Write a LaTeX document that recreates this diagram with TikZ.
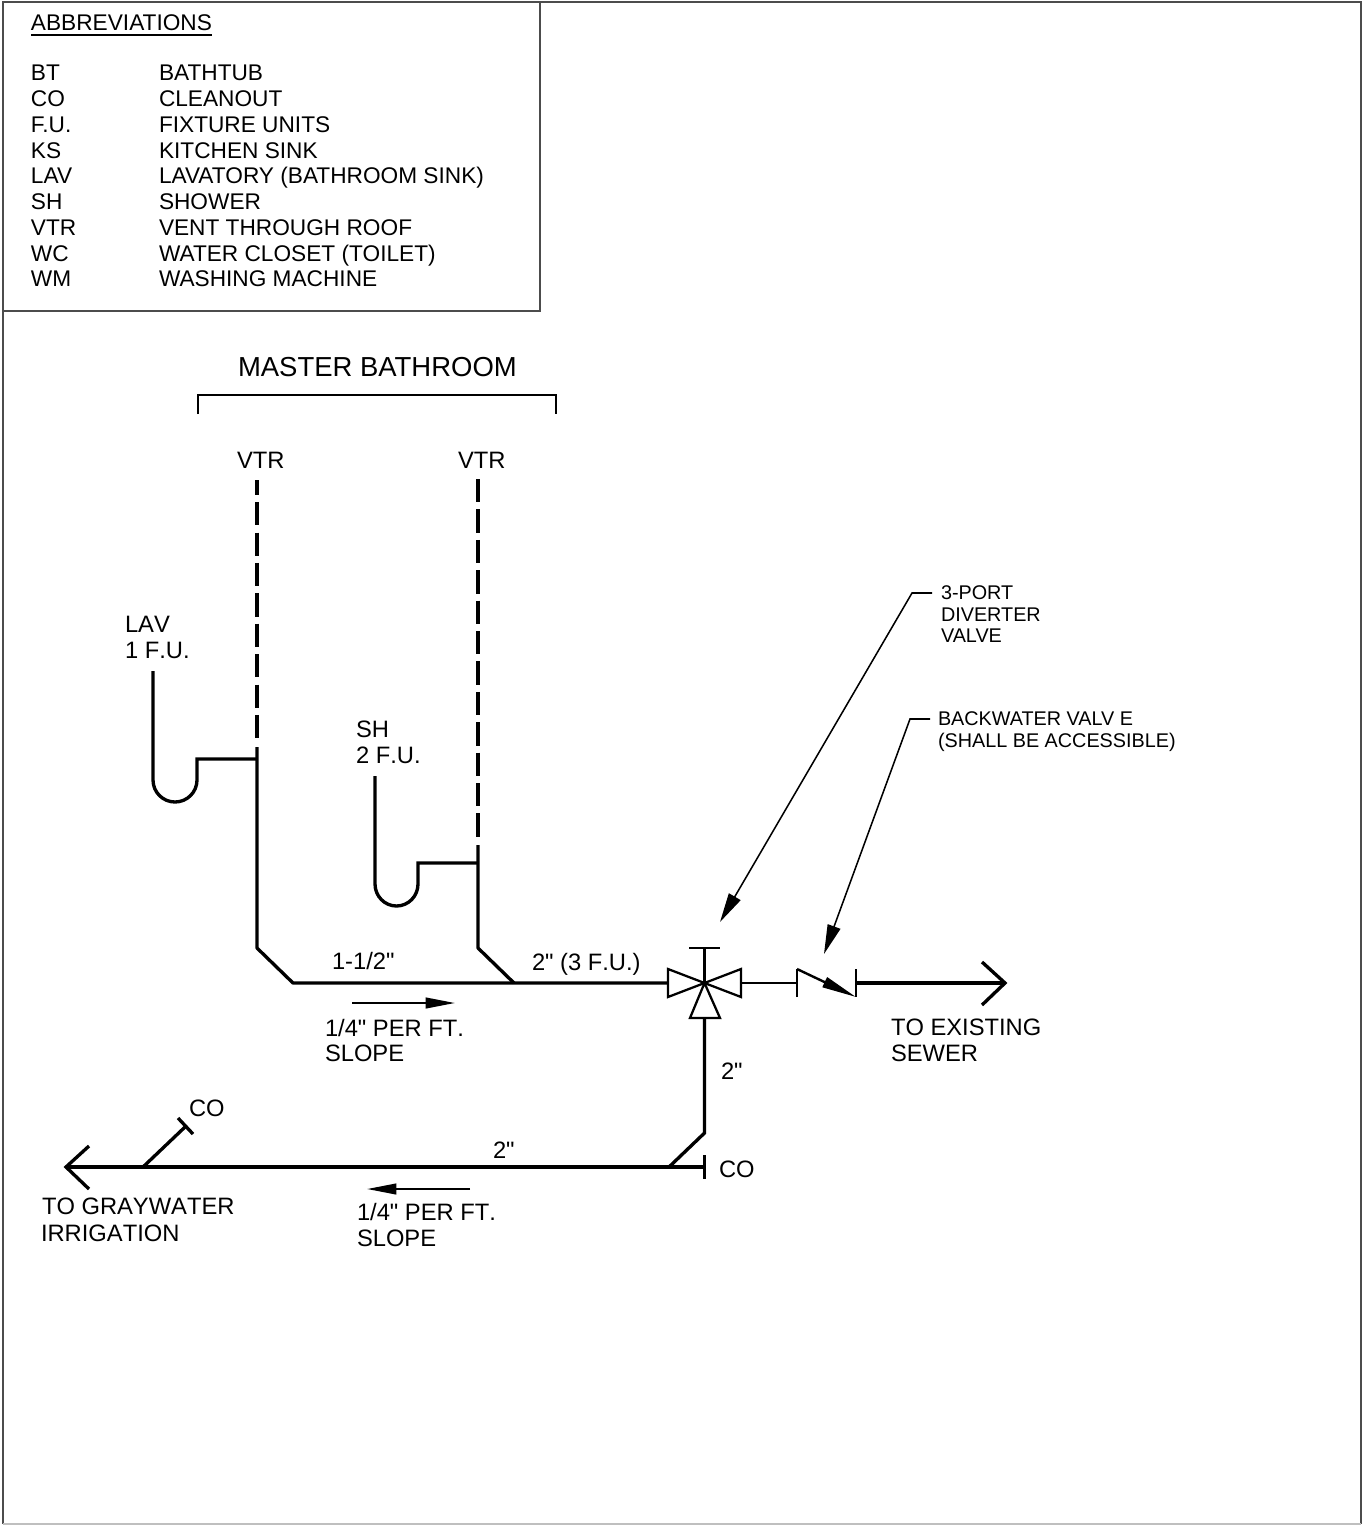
\documentclass[tikz,border=0pt]{standalone}
\usepackage{fontspec}
\setmainfont[Ligatures=TeXOff]{Liberation Sans}
\usetikzlibrary{arrows.meta}
\tikzset{
  pipe/.style={line width=2.5pt,line join=miter,line cap=butt},
  venta/.style={line width=2.5pt,dash pattern=on 17.5pt off 5.3pt,dash phase=6.2pt},
  ventb/.style={line width=2.5pt,dash pattern=on 17.5pt off 5.3pt},
  valveline/.style={line width=1.7pt,line join=miter,fill=white},
  frameline/.style={line width=0.8pt,draw=black!70},
  leader/.style={line width=1.15pt,-{Triangle[length=22pt,width=10pt]}},
  slopearrow/.style={line width=1.6pt,-{Triangle[length=22pt,width=8pt]}},
  txt/.style={anchor=base west,inner sep=0pt,outer sep=0pt,font=\fontsize{17}{20}\selectfont},
  lab/.style={txt,font=\fontsize{17.8}{20}\selectfont\addfontfeature{Kerning=Off}},
  small/.style={txt,font=\fontsize{14.85}{18}\selectfont},
  big/.style={txt,font=\fontsize{20.6}{24}\selectfont},
}
\begin{document}
\begin{tikzpicture}[x=0.75pt,y=-0.75pt]
\useasboundingbox (0,0) rectangle (1362,1526);
\fill[white] (0,0) rectangle (1362,1526);
% frame
\coordinate (fa) at (3,1524); \coordinate (fb) at (3,2); \coordinate (fc) at (1361,2); \coordinate (fd) at (1361,1524);
\draw[frameline] (fa) -- (fb) -- (fc) -- (fd);
\draw[frameline,draw=black!25] (fa) -- (fd);
\coordinate (ba) at (540,2); \coordinate (bb) at (540,311); \coordinate (bc) at (3,311);
\draw[frameline] (ba) -- (bb) -- (bc);
% abbreviations
\node[txt] (abbr) at (31,31) {ABBREVIATIONS};
\draw[line width=1pt] ([yshift=-3pt]abbr.base west) -- ([yshift=-3pt]abbr.base east);
\node[txt] (k1) at (31,81) {BT};   \node[txt] (v1) at (159,81) {BATHTUB};
\node[txt] (k2) at (31,107) {CO};  \node[txt] (v2) at (159,107) {CLEANOUT};
\node[txt] (k3) at (31,133) {F.U.};\node[txt] (v3) at (159,133) {FIXTURE UNITS};
\node[txt] (k4) at (31,159) {KS};  \node[txt] (v4) at (159,159) {KITCHEN SINK};
\node[txt] (k5) at (31,184) {LAV}; \node[txt] (v5) at (159,184) {LAVATORY (BATHROOM SINK)};
\node[txt] (k6) at (31,210) {SH};  \node[txt] (v6) at (159,210) {SHOWER};
\node[txt] (k7) at (31,236) {VTR}; \node[txt] (v7) at (159,236) {VENT THROUGH ROOF};
\node[txt] (k8) at (31,262) {WC};  \node[txt] (v8) at (159,262) {WATER CLOSET (TOILET)};
\node[txt] (k9) at (31,287) {WM};  \node[txt] (v9) at (159,287) {WASHING MACHINE};
% master bathroom bracket
\node[big] (mb) at (238,376) {MASTER BATHROOM};
\coordinate (bra) at (198,414); \coordinate (brb) at (198,395); \coordinate (brc) at (556,395); \coordinate (brd) at (556,414);
\draw[line width=0.9pt] (bra) -- (brb) -- (brc) -- (brd);
% labels
\node[lab] (vtra) at (237,468) {VTR};
\node[lab] (vtrb) at (458,468) {VTR};
\node[lab] (lav) at (125,632) {LAV};
\node[lab] (lavfu) at (125,658) {1 F.U.};
\node[lab] (sh) at (356,737) {SH};
\node[lab] (shfu) at (356,763) {2 F.U.};
\node[lab] (s112) at (332,969) {1-1/2"};
\node[lab] (s2fu) at (532,970) {2" (3 F.U.)};
\node[lab] (sl1a) at (325,1036) {1/4" PER FT.};
\node[lab] (sl1b) at (325,1061) {SLOPE};
\node[lab] (s2v) at (721,1079) {2"};
\node[lab] (co2) at (719,1177) {CO};
\node[lab] (co1) at (189,1116) {CO};
\node[lab] (s2h) at (493,1158) {2"};
\node[lab] (sl2a) at (357,1220) {1/4" PER FT.};
\node[lab] (sl2b) at (357,1246) {SLOPE};
\node[lab] (tga) at (42,1214) {TO GRAYWATER};
\node[lab] (tgb) at (41,1241) {IRRIGATION};
\node[lab] (tsa) at (891,1035) {TO EXISTING};
\node[lab] (tsb) at (891,1061) {SEWER};
\node[small] (pa) at (941,599) {3-PORT};
\node[small] (pb) at (941,621) {DIVERTER};
\node[small] (pc) at (941,642) {VALVE};
\node[small] (ca) at (938,725) {BACKWATER VALV E};
\node[small] (cb) at (938,747) {(SHALL BE ACCESSIBLE)};
% vents
\coordinate (v1t) at (257,480); \coordinate (v1j) at (257,738); \coordinate (v1s) at (257,747);
\coordinate (v2t) at (478,479); \coordinate (v2j) at (478,837); \coordinate (v2s) at (478,845);
\draw[venta] (v1t) -- (v1j);
\draw[ventb] (v2t) -- (v2j);
% stacks and main
\coordinate (v1e) at (257,948); \coordinate (h1) at (293,983);
\coordinate (v2e) at (478,948); \coordinate (h2) at (514,983);
\coordinate (vc) at (704.5,983); \coordinate (vl) at (668,983); \coordinate (vr) at (741,983);
\coordinate (vb) at (704.5,1018); \coordinate (vt) at (704.5,948);
\coordinate (vta) at (689,948); \coordinate (vtb) at (720,948);
\draw[pipe,line join=round] (v1s) -- (v1e) -- (h1) -- (vl);
\draw[pipe,line join=round] (v2s) -- (v2e) -- (h2);
% LAV trap
\coordinate (la) at (153,671); \coordinate (lb) at (153,780); \coordinate (ld) at (197,759); \coordinate (le) at (257,759);
\draw[pipe] (la) -- (lb) arc[start angle=180,end angle=360,x radius=22,y radius=-22] -- (ld) -- (le);
% SH trap
\coordinate (sa) at (375,776); \coordinate (sb) at (375,884); \coordinate (sd) at (418,863); \coordinate (se) at (478,863);
\draw[pipe] (sa) -- (sb) arc[start angle=180,end angle=360,x radius=21.5,y radius=-22] -- (sd) -- (se);
% diverter valve
\draw[valveline] (vc) -- (668,969) -- (668,997) -- cycle;
\draw[valveline] (vc) -- (741,969) -- (741,997) -- cycle;
\draw[valveline] (vc) -- (690,1018) -- (720,1018) -- cycle;
\draw[line width=1.7pt] (vc) -- (vt);
\draw[line width=1.7pt] (vta) -- (vtb);
% backwater valve
\coordinate (cl) at (797,983); \coordinate (cr) at (856,983);
\coordinate (cla) at (797,969); \coordinate (clb) at (797,997);
\coordinate (cra) at (856,969); \coordinate (crb) at (856,997);
\draw[line width=2pt] (vr) -- (cl);
\draw[line width=1.8pt] (clb) -- (cla);
\draw[line width=1.8pt,-{Triangle[length=26pt,width=8pt]}] (cla) -- (crb);
\draw[line width=1.8pt] (cra) -- (crb);
% to sewer
\coordinate (sw) at (1005,983); \coordinate (swa) at (982,962); \coordinate (swb) at (982,1005);
\draw[pipe] (cr) -- (sw);
\draw[pipe] (swa) -- (sw) -- (swb);
% lower branch
\coordinate (d1) at (704.5,1133); \coordinate (d2) at (669,1167);
\coordinate (hr) at (704.5,1167); \coordinate (hl) at (66,1167);
\coordinate (capa) at (704.5,1155); \coordinate (capb) at (704.5,1179);
\coordinate (gwa) at (89,1146); \coordinate (gwb) at (89,1189);
\draw[pipe] (vb) -- (d1) -- (d2);
\draw[pipe] (hr) -- (hl);
\draw[line width=1.8pt] (capa) -- (capb);
\draw[pipe] (gwa) -- (hl) -- (gwb);
\coordinate (cb1) at (143,1167); \coordinate (cb2) at (185,1127);
\coordinate (cc1) at (178,1118); \coordinate (cc2) at (193,1134);
\draw[pipe] (cb1) -- (cb2);
\draw[pipe] (cc1) -- (cc2);
% slope arrows
\coordinate (s1a) at (352,1003); \coordinate (s1b) at (455,1003);
\coordinate (s2a) at (470,1189); \coordinate (s2b) at (367,1189);
\draw[slopearrow] (s1a) -- (s1b);
\draw[slopearrow] (s2a) -- (s2b);
% leaders
\coordinate (l1a) at (932,593); \coordinate (l1b) at (912,593); \coordinate (l1c) at (720,922);
\coordinate (l2a) at (930,719); \coordinate (l2b) at (910,719); \coordinate (l2c) at (824,954);
\draw[leader] (l1a) -- (l1b) -- (l1c);
\draw[leader] (l2a) -- (l2b) -- (l2c);
\end{tikzpicture}
\end{document}
